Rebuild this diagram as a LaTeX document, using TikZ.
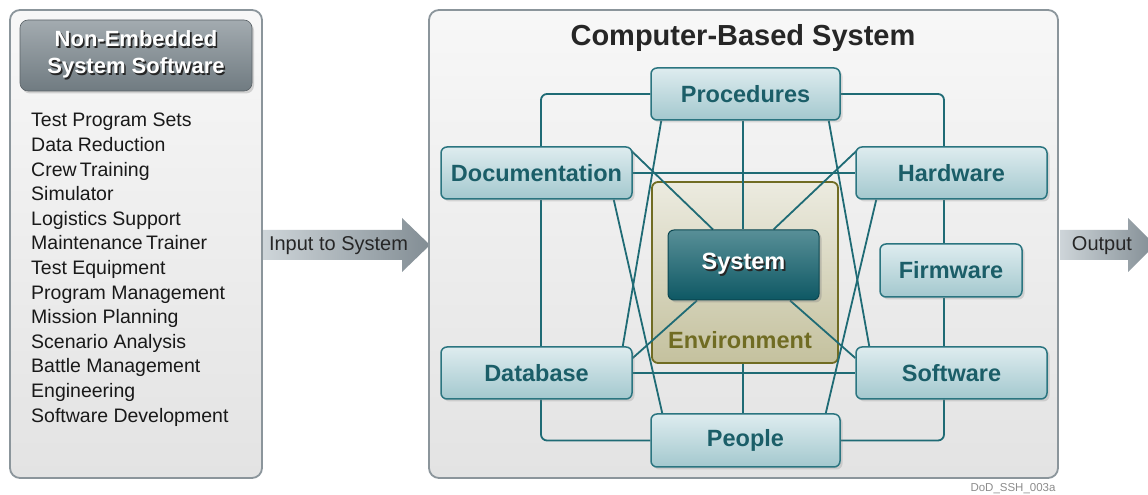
\documentclass[tikz,border=0pt]{standalone}
\usepackage{fontspec}
\setmainfont{Liberation Sans}
\usetikzlibrary{shadows}
\definecolor{tealline}{RGB}{31,107,117}
\definecolor{tealedge}{RGB}{43,117,128}
\definecolor{parttop}{RGB}{222,236,239}
\definecolor{partbot}{RGB}{163,200,206}
\definecolor{parttext}{RGB}{27,94,104}
\definecolor{systop}{RGB}{88,143,151}
\definecolor{sysbot}{RGB}{14,88,100}
\definecolor{envtop}{RGB}{236,235,224}
\definecolor{envbot}{RGB}{196,193,158}
\definecolor{envedge}{RGB}{112,108,35}
\definecolor{panedge}{RGB}{139,149,155}
\definecolor{headtop}{RGB}{163,171,176}
\definecolor{headbot}{RGB}{112,123,129}
\definecolor{arrowleft}{RGB}{206,213,217}
\definecolor{arrowright}{RGB}{130,141,148}
\pgfdeclarelayer{back}
\pgfdeclarelayer{wires}
\pgfsetlayers{back,wires,main}
\newcommand\embossed[1]{\makebox[0pt][l]{\kern1.6pt\raisebox{-1.6pt}{\textcolor{black!85}{#1}}}#1}
\tikzset{
	part/.style={draw=tealedge, line width=1.5pt, rounded corners=6pt, top color=parttop, bottom color=partbot,
		text=parttext, font=\fontsize{23.5}{27}\selectfont\bfseries, inner sep=0pt,
		drop shadow={opacity=0.25, shadow xshift=2.5pt, shadow yshift=-2.5pt}},
	link/.style={draw=tealline, line width=1.8pt},
	panel/.style={draw=panedge, line width=1.8pt, rounded corners=10pt, top color=black!3, bottom color=black!11},
	pointer/.style={left color=arrowleft, right color=arrowright}
}

\begin{document}
\begin{tikzpicture}[x=1pt, y=1pt]
	\useasboundingbox (0,0) rectangle (1148,495);
	\begin{pgfonlayer}{back}
	\draw[panel] (10,17) rectangle (262,485);
	\shade[pointer] (263,235) -- (402,235) -- (402,223) -- (430,250) -- (402,277) -- (402,265) -- (263,265) -- cycle;
	\shade[pointer] (1060,235) -- (1128,235) -- (1128,223) -- (1155,250) -- (1128,277) -- (1128,265) -- (1060,265) -- cycle;
	\draw[panel] (429,17) rectangle (1058,485);
	\node[draw=envedge, line width=1.8pt, rounded corners=6pt, top color=envtop, bottom color=envbot,
		minimum width=186, minimum height=181] (env) at (745,222.5) {};
	\end{pgfonlayer}
	\node[draw=headbot!80!black, line width=0.6pt, rounded corners=8pt, top color=headtop, bottom color=headbot,
		minimum width=232, minimum height=71, text=white, align=center, font=\fontsize{22}{27}\selectfont\bfseries,
		drop shadow={opacity=0.3, shadow xshift=2pt, shadow yshift=-2.5pt}] (nes) at (136,439.5)
		{\embossed{Non-Embedded}\\\embossed{System Software}};
	\node[anchor=north west, inner sep=0pt, align=left, text=black!90, font=\fontsize{19.5}{24.6}\selectfont] (uses) at (31,382)
		{Test Program Sets\\Data Reduction\\Crew\,Training\\Simulator\\Logistics Support\\Maintenance\,Trainer\\Test Equipment\\
		Program Management\\Mission Planning\\Scenario Analysis\\Battle Management\\Engineering\\Software Development};
	\node[font=\fontsize{20}{22}\selectfont, text=black!85] (input) at (338.5,249) {Input to System};
	\node[font=\fontsize{20}{22}\selectfont, text=black!85] (output) at (1102,249) {Output};
	\node[font=\fontsize{29}{32}\selectfont\bfseries, text=black!85] (title) at (743,457) {Computer-Based System};
	\node[anchor=base, inner sep=0pt, font=\fontsize{11.5}{13}\selectfont, text=black!45] (tag) at (1013,3) {DoD\_SSH\_003a};
	% the parts
	\node[part, minimum width=189, minimum height=52] (proc) at (745.5,401) {Procedures};
	\node[part, minimum width=191, minimum height=52] (doc) at (536.5,322) {Documentation};
	\node[part, minimum width=191, minimum height=52] (hw) at (951.5,322) {Hardware};
	\node[part, minimum width=142, minimum height=53] (fw) at (951,224.5) {Firmware};
	\node[part, minimum width=191, minimum height=52] (sw) at (951.5,122) {Software};
	\node[part, minimum width=191, minimum height=52] (db) at (536.5,122) {Database};
	\node[part, minimum width=189, minimum height=53] (ppl) at (745.5,54.5) {People};
	\node[draw=sysbot!80!black, line width=1pt, rounded corners=6pt, top color=systop, bottom color=sysbot,
		minimum width=151, minimum height=70, text=white, font=\fontsize{23.5}{27}\selectfont\bfseries,
		drop shadow={opacity=0.35, shadow xshift=2.5pt, shadow yshift=-2.5pt}] (sys) at (743.5,230) {\embossed{System}};
	\node[text=envedge, font=\fontsize{23.5}{27}\selectfont\bfseries] (envlabel) at (740,155) {Environment};
	\coordinate (lx) at (541,0);
	\coordinate (mx) at (743,0);
	\coordinate (rx) at (944,0);
	\begin{pgfonlayer}{wires}
	\draw[link, rounded corners=6pt] (proc.west) -| (lx |- doc.north);
	\draw[link] (lx |- doc.south) -- (lx |- db.north);
	\draw[link, rounded corners=6pt] (lx |- db.south) |- (ppl.west);
	\draw[link, rounded corners=6pt] (proc.east) -| (rx |- hw.north);
	\draw[link] (rx |- hw.south) -- (rx |- fw.north);
	\draw[link] (rx |- fw.south) -- (rx |- sw.north);
	\draw[link, rounded corners=6pt] (rx |- sw.south) |- (ppl.east);
	\draw[link] (doc.east) -- (hw.west);
	\draw[link] (db.east) -- (sw.west);
	\draw[link] (mx |- proc.south) -- (mx |- sys.north);
	\draw[link] (mx |- env.south) -- (mx |- ppl.north);
	\draw[link] ([shift={(11,0)}]proc.south west) -- ([shift={(-10,0)}]db.north east);
	\draw[link] ([shift={(-19,0)}]doc.south east) -- ([shift={(12,0)}]ppl.north west);
	\draw[link] ([shift={(-12,0)}]proc.south east) -- ([shift={(14,0)}]sw.north west);
	\draw[link] ([shift={(21,0)}]hw.south west) -- ([shift={(-15,0)}]ppl.north east);
	\draw[link] ([shift={(-3,-3)}]doc.north east) -- ([shift={(-30.5,0)}]sys.north);
	\draw[link] ([shift={(3,-3)}]hw.north west) -- ([shift={(30,0)}]sys.north);
	\draw[link] ([shift={(-46.5,0)}]sys.south) -- ([shift={(0,15)}]db.east);
	\draw[link] ([shift={(46.5,0)}]sys.south) -- ([shift={(0,15)}]sw.west);
	\end{pgfonlayer}
\end{tikzpicture}
\end{document}
